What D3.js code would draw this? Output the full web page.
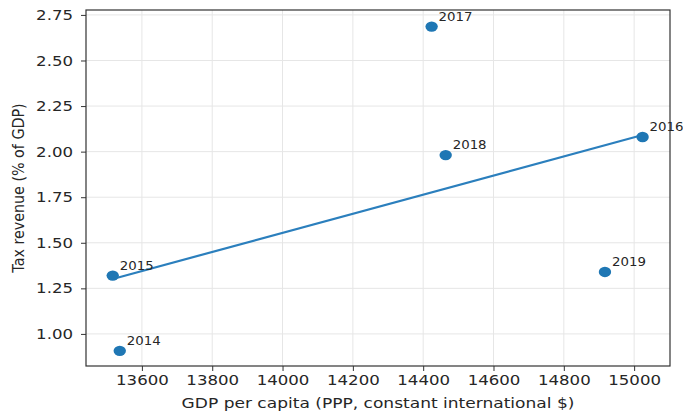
<!DOCTYPE html>
<html>
<head>
<meta charset="utf-8">
<script src="https://cdn.jsdelivr.net/npm/d3@7"></script>
<style>
  html, body { margin: 0; padding: 0; background: #fff; }
  svg { display: block; }
  text { font-family: "DejaVu Sans", sans-serif; fill: #262626; }
</style>
</head>
<body>
<svg id="chart" width="683" height="413"></svg>
<script>
// GDP per capita vs tax revenue, one point per year
const years = [2014, 2015, 2016, 2017, 2018, 2019];
const gdpPerCapita = [13537, 13517, 15024, 14424, 14464, 14917];
const taxRevenue = [0.907, 1.32, 2.08, 2.686, 1.981, 1.34];

const xTicks = [13600, 13800, 14000, 14200, 14400, 14600, 14800, 15000];
const yTicks = [1.00, 1.25, 1.50, 1.75, 2.00, 2.25, 2.50, 2.75];

const W = 683, H = 413;
const plot = { left: 86, right: 670, top: 10, bottom: 366 };
const sx = 1.16; // horizontal glyph stretch
const blue = "#1f77b4";

const svg = d3.select("#chart");

const x = d3.scaleLinear().domain([13441, 15102]).range([plot.left, plot.right]);
const y = d3.scaleLinear().domain([0.824, 2.777]).range([plot.bottom, plot.top]);

// grid
const grid = svg.append("g");
grid.selectAll("line.vx").data(xTicks).join("line")
  .attr("x1", d => x(d)).attr("x2", d => x(d))
  .attr("y1", plot.top).attr("y2", plot.bottom)
  .attr("stroke", "#e6e6e6").attr("stroke-width", 1);
grid.selectAll("line.hy").data(yTicks).join("line")
  .attr("y1", d => y(d)).attr("y2", d => y(d))
  .attr("x1", plot.left).attr("x2", plot.right)
  .attr("stroke", "#e6e6e6").attr("stroke-width", 1);

// axes
const xAxis = svg.append("g")
  .attr("transform", `translate(0,${plot.bottom})`)
  .call(d3.axisBottom(x).tickValues(xTicks).tickFormat(d3.format("d")).tickSize(5).tickPadding(4));
const yAxis = svg.append("g")
  .attr("transform", `translate(${plot.left},0)`)
  .call(d3.axisLeft(y).tickValues(yTicks).tickFormat(d3.format(".2f")).tickSize(5).tickPadding(4));

[xAxis, yAxis].forEach(a => {
  a.select(".domain").remove();
  a.selectAll(".tick line").attr("stroke", "#333").attr("stroke-width", 1);
  a.selectAll(".tick text").attr("font-size", 14.3).attr("fill", "#262626")
    .attr("font-family", "DejaVu Sans, sans-serif");
});
xAxis.selectAll(".tick text").attr("transform", `scale(${sx},1)`).attr("dy", "0.72em");
yAxis.selectAll(".tick text").attr("x", -13 / sx).attr("transform", `scale(${sx},1)`);

// frame
svg.append("rect")
  .attr("x", plot.left).attr("y", plot.top)
  .attr("width", plot.right - plot.left).attr("height", plot.bottom - plot.top)
  .attr("fill", "none").attr("stroke", "#333").attr("stroke-width", 1.2);

// least-squares trend line across the observed GDP range
const n = years.length;
const mx = d3.mean(gdpPerCapita), my = d3.mean(taxRevenue);
let sxy = 0, sxx = 0;
for (let i = 0; i < n; i++) {
  sxy += (gdpPerCapita[i] - mx) * (taxRevenue[i] - my);
  sxx += (gdpPerCapita[i] - mx) ** 2;
}
const slope = sxy / sxx, intercept = my - slope * mx;
const [gMin, gMax] = d3.extent(gdpPerCapita);
svg.append("line")
  .attr("x1", x(gMin)).attr("y1", y(intercept + slope * gMin))
  .attr("x2", x(gMax)).attr("y2", y(intercept + slope * gMax))
  .attr("stroke", "#2b7fbd").attr("stroke-width", 2.2);

// points
const pts = years.map((yr, i) => ({ yr, g: gdpPerCapita[i], t: taxRevenue[i] }));
svg.append("g").selectAll("ellipse").data(pts).join("ellipse")
  .attr("cx", d => x(d.g)).attr("cy", d => y(d.t))
  .attr("rx", 6.2).attr("ry", 5.2)
  .attr("fill", blue);

// year labels
svg.append("g").selectAll("text").data(pts).join("text")
  .attr("transform", d => `translate(${x(d.g) + 7},${y(d.t) - 6}) scale(${sx},1)`)
  .attr("font-size", 11.5)
  .text(d => d.yr);

// axis titles
svg.append("text")
  .attr("transform", `translate(${(plot.left + plot.right) / 2},408) scale(${sx},1)`)
  .attr("text-anchor", "middle").attr("font-size", 14.7)
  .text("GDP per capita (PPP, constant international $)");
svg.append("text")
  .attr("transform", `translate(24,${(plot.top + plot.bottom) / 2}) rotate(-90) scale(1,${sx})`)
  .attr("text-anchor", "middle").attr("font-size", 14.3)
  .text("Tax revenue (% of GDP)");
</script>
</body>
</html>
